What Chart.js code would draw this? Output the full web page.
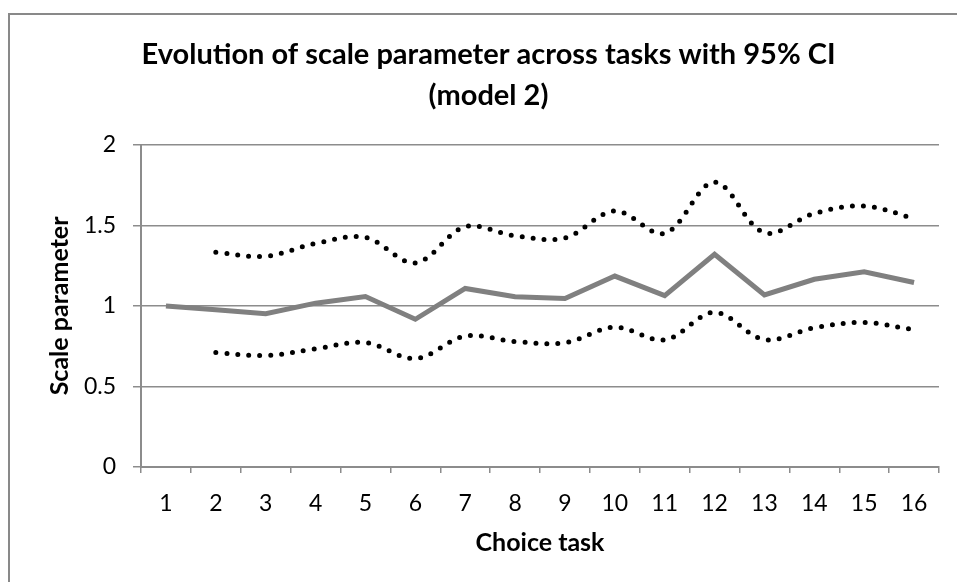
<!DOCTYPE html>
<html>
<head>
<meta charset="utf-8">
<script src="https://cdn.jsdelivr.net/npm/chart.js@4.4.1/dist/chart.umd.min.js"></script>
<style>
  html, body { margin:0; padding:0; background:#fff; overflow:hidden; width:957px; height:582px; }
  #frame { position:absolute; left:8px; top:13px; width:1000px; height:1000px; border:2px solid #898989; }
  #wrap { position:absolute; left:0; top:0; width:967px; height:582px; }
</style>
</head>
<body>
<div id="frame"></div>
<div id="wrap"><canvas id="c"></canvas></div>
<script>
// choice tasks 1..16
const tasks = ['1','2','3','4','5','6','7','8','9','10','11','12','13','14','15','16'];
// estimated scale parameter per task (task 1 is the reference = 1)
const scaleParam = [1.00, 0.976, 0.952, 1.017, 1.058, 0.917, 1.108, 1.057, 1.046, 1.185, 1.064, 1.320, 1.068, 1.165, 1.212, 1.145];
// 95% CI bounds (none for task 1)
const ciUpper = [null, 1.333, 1.308, 1.387, 1.425, 1.267, 1.491, 1.435, 1.422, 1.589, 1.450, 1.768, 1.454, 1.574, 1.620, 1.543];
const ciLower = [null, 0.710, 0.692, 0.733, 0.773, 0.673, 0.812, 0.779, 0.771, 0.868, 0.789, 0.960, 0.791, 0.864, 0.897, 0.852];
const yTicks = [0, 0.5, 1, 1.5, 2];

const FONT = 'Lato, "Open Sans", sans-serif';
const gridGrey = '#8c8c8c';

const dotted = (data) => ({
  data, borderColor:'#000', borderWidth:5, borderDash:[0, 11], borderCapStyle:'round',
  pointRadius:0, tension:0.35, fill:false
});

new Chart(document.getElementById('c'), {
  type:'line',
  data:{
    labels: tasks,
    datasets:[
      { label:'Scale', data:scaleParam, borderColor:'#808080', borderWidth:5, pointRadius:0, tension:0, fill:false },
      Object.assign({ label:'Upper 95% CI' }, dotted(ciUpper)),
      Object.assign({ label:'Lower 95% CI' }, dotted(ciLower))
    ]
  },
  options:{
    responsive:true, maintainAspectRatio:false, animation:false,
    layout:{ padding:{ left:10, top:14, right:0, bottom:0 } },
    plugins:{
      legend:{ display:false },
      tooltip:{ enabled:false },
      title:{
        display:true,
        text:['Evolution of scale parameter across tasks with 95% CI', '(model 2)'],
        color:'#000',
        font:{ family:FONT, size:29, weight:'bold', lineHeight:1.41 },
        padding:{ top:20, bottom:29 }
      }
    },
    scales:{
      x:{
        offset:true,
        grid:{ offset:true, drawOnChartArea:false, color:gridGrey, lineWidth:1.5, tickLength:6 },
        border:{ color:gridGrey, width:2 },
        ticks:{ color:'#000', font:{ family:FONT, size:23 }, padding:17, maxRotation:0, autoSkip:false },
        title:{ display:true, text:'Choice task', color:'#000', font:{ family:FONT, size:25, weight:'bold', lineHeight:1.2 }, padding:{ top:24, bottom:24 } },
        afterFit(s){ s.height = 115; }
      },
      y:{
        min:0, max:2,
        afterBuildTicks(s){ s.ticks = yTicks.map(v => ({ value:v })); },
        grid:{ color:gridGrey, lineWidth:1.5, tickLength:8 },
        border:{ color:gridGrey, width:2 },
        ticks:{ color:'#000', font:{ family:FONT, size:23 }, padding:17, callback:(v) => String(v) },
        title:{ display:true, text:'Scale parameter', color:'#000', font:{ family:FONT, size:25, weight:'bold', lineHeight:1.2 }, padding:{ top:35, bottom:35 } },
        afterFit(s){ s.width = 131; }
      },
      yR:{
        position:'right', display:true,
        grid:{ display:false }, border:{ display:false }, ticks:{ display:false },
        afterFit(s){ s.width = 28; }
      }
    }
  }
});
</script>
</body>
</html>
